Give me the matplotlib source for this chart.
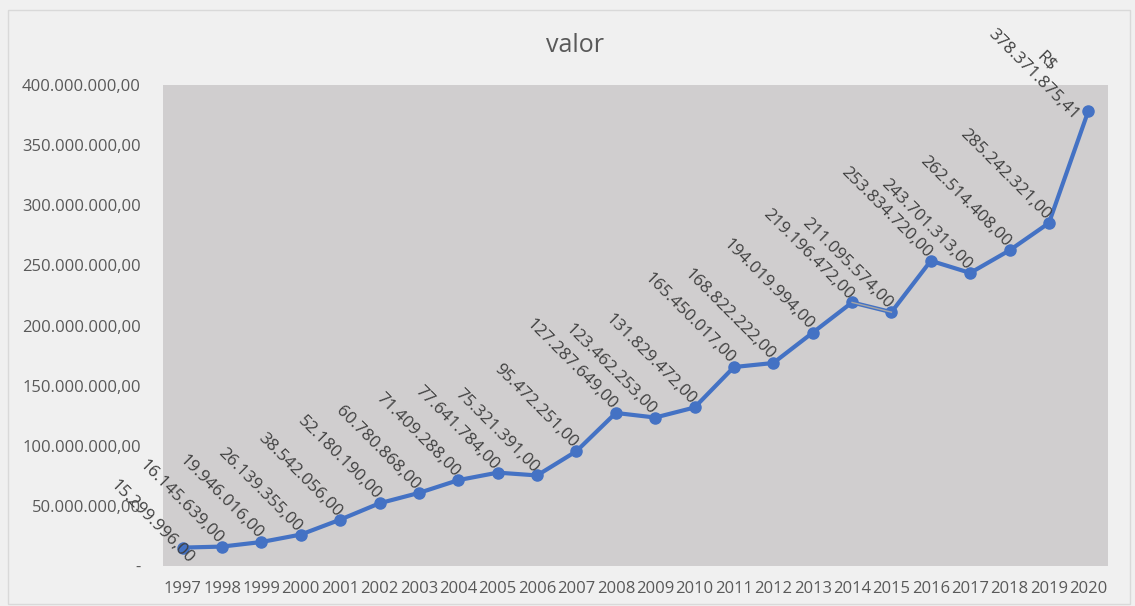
import matplotlib
matplotlib.use("Agg")
import matplotlib.pyplot as plt

years = [str(y) for y in range(1997, 2021)]
valor = [
    15299996.00, 16145639.00, 19946016.00, 26139355.00, 38542056.00,
    52180190.00, 60780868.00, 71409288.00, 77641784.00, 75321391.00,
    95472251.00, 127287649.00, 123462253.00, 131829472.00, 165450017.00,
    168822222.00, 194019994.00, 219196472.00, 211095574.00, 253834720.00,
    243701313.00, 262514408.00, 285242321.00, 378371875.41,
]
y_ticks = [0, 50e6, 100e6, 150e6, 200e6, 250e6, 300e6, 350e6, 400e6]

TEXT = "#595959"
LINE = "#4472C4"

plt.rcParams["font.family"] = ["Open Sans", "DejaVu Sans"]


def br(v):
    s = f"{v:,.2f}"
    return s.replace(",", "X").replace(".", ",").replace("X", ".")


fig = plt.figure(figsize=(11.35, 6.06), dpi=100, facecolor="#F0F0F0")
ax = fig.add_axes([163 / 1135, 1 - 566 / 606, (1108 - 163) / 1135, (566 - 85) / 606])
ax.set_facecolor("#D0CECF")

x = list(range(len(years)))
ax.plot(x, valor, color=LINE, lw=3, marker="o", ms=8, zorder=3)
# leader line between 2014 and 2015 labels
ax.plot(x[17:19], valor[17:19], color="#A6A6A6", lw=1, zorder=4)

for i, v in enumerate(valor):
    label = br(v)
    off = (-1, 4)
    if i == 0:
        off = (6, -10)
    if i == len(valor) - 1:
        label = "R$\n" + label
        off = (-4, 0)
    ax.annotate(label, (i, v), xytext=off, textcoords="offset points",
                rotation=-45, rotation_mode="anchor", ha="right", va="center",
                multialignment="center", fontsize=12.3, color="#404040",
                zorder=5, annotation_clip=False)

ax.set_xlim(-0.5, len(years) - 0.5)
ax.set_ylim(0, 400e6)
ax.set_xticks(x)
ax.set_xticklabels(years, fontsize=12, color=TEXT)
ax.set_yticks(y_ticks)
ax.set_yticklabels(["-"] + [br(t) for t in y_ticks[1:]], fontsize=12, color=TEXT)
ax.tick_params(length=0, axis="y", pad=16)
ax.tick_params(length=0, axis="x", pad=11)
for s in ax.spines.values():
    s.set_visible(False)

fig.text(575 / 1135, 1 - 45 / 606, "valor", ha="center", va="center",
         fontsize=18, color=TEXT)

border = plt.Rectangle((8 / 1135, 1 - 604 / 606), 1122 / 1135, 594 / 606,
                       transform=fig.transFigure, fill=False,
                       edgecolor="#D9D9D9", lw=1)
fig.patches.append(border)

fig.savefig("out.png", dpi=100, facecolor=fig.get_facecolor())
